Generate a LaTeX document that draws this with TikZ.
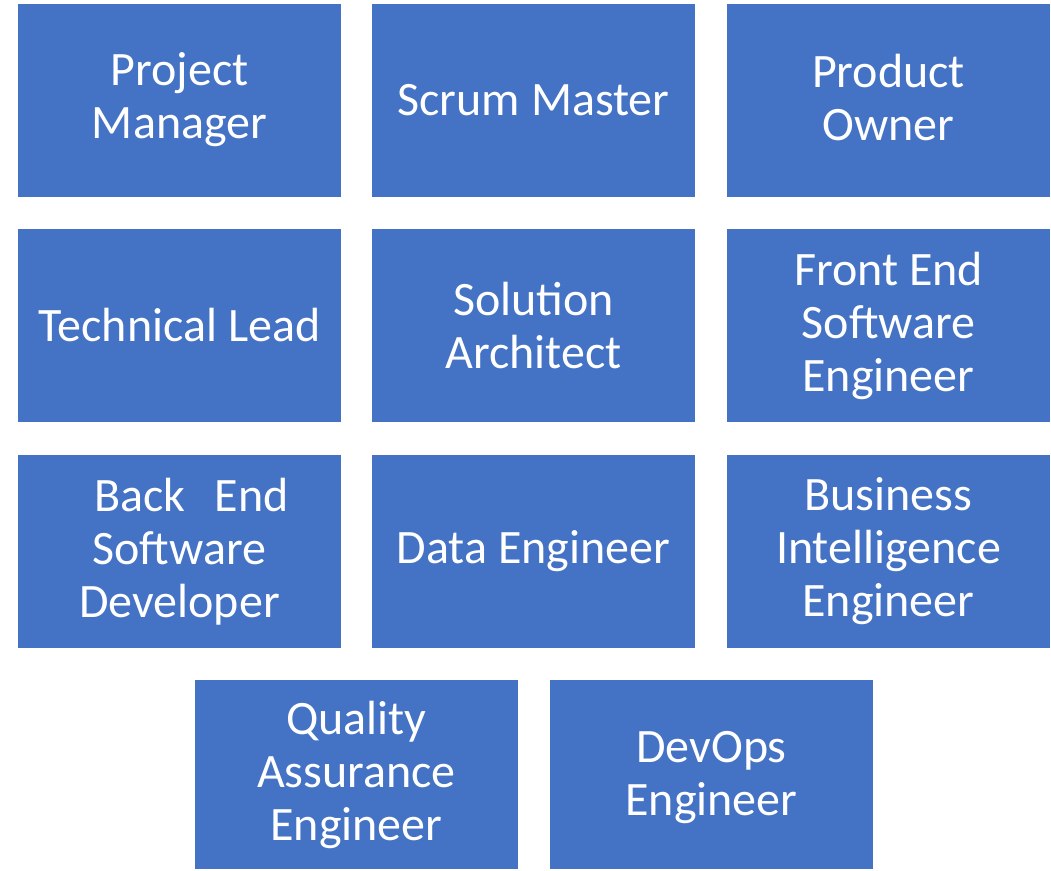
\documentclass[tikz,border=0pt]{standalone}
\usepackage{fontspec}
\setmainfont{Carlito}
\definecolor{roleblue}{HTML}{4472C4}
\tikzset{
  role/.style={rectangle, fill=roleblue, draw=none, text=white, align=center,
    minimum width=323pt, minimum height=193pt, inner sep=0pt,
    font=\fontsize{48}{53}\selectfont},
}
\begin{document}
\begin{tikzpicture}[x=1pt,y=-1pt]
%%%%%%%%%%%%%%%%%%%%%%%%%%%%%%%%%%%%%%%%%%% frame
\useasboundingbox (0,0) rectangle (1051,870);

%%%%%%%%%%%%%%%%%%%%%%%%%%%%%%%%%%%%%%%%%%% row 1
\node[role] (pm) at (179.5,100){Project\\Manager};
\node[role] (sm) at (533.5,100){Scrum Master};
\node[role] (po) at (888.5,100){Product\\Owner\rule[-6pt]{0pt}{1pt}};

%%%%%%%%%%%%%%%%%%%%%%%%%%%%%%%%%%%%%%%%%%% row 2
\node[role] (tl) at (179.5,325.5){Technical Lead};
\node[role] (sa) at (533.5,325.5){Solution\\Architect};
\node[role] (fe) at (888.5,325.5){Front End\\Software\\Engineer};

%%%%%%%%%%%%%%%%%%%%%%%%%%%%%%%%%%%%%%%%%%% row 3
\node[role] (be) at (179.5,551.5){\hspace{0.5em}Back\hspace{0.6em}End\\Software\hspace{0.55em}\\Developer};
\node[role] (de) at (533.5,551.5){Data Engineer};
\node[role] (bi) at (888.5,551.5){Business\\Intelligence\\Engineer};

%%%%%%%%%%%%%%%%%%%%%%%%%%%%%%%%%%%%%%%%%%% row 4
\node[role, minimum height=189pt] (qa) at (356.5,774.5){Quality\\Assurance\\Engineer};
\node[role, minimum height=189pt] (do) at (711.5,774.5){\strut DevOps\\Engineer};

\end{tikzpicture}
\end{document}
